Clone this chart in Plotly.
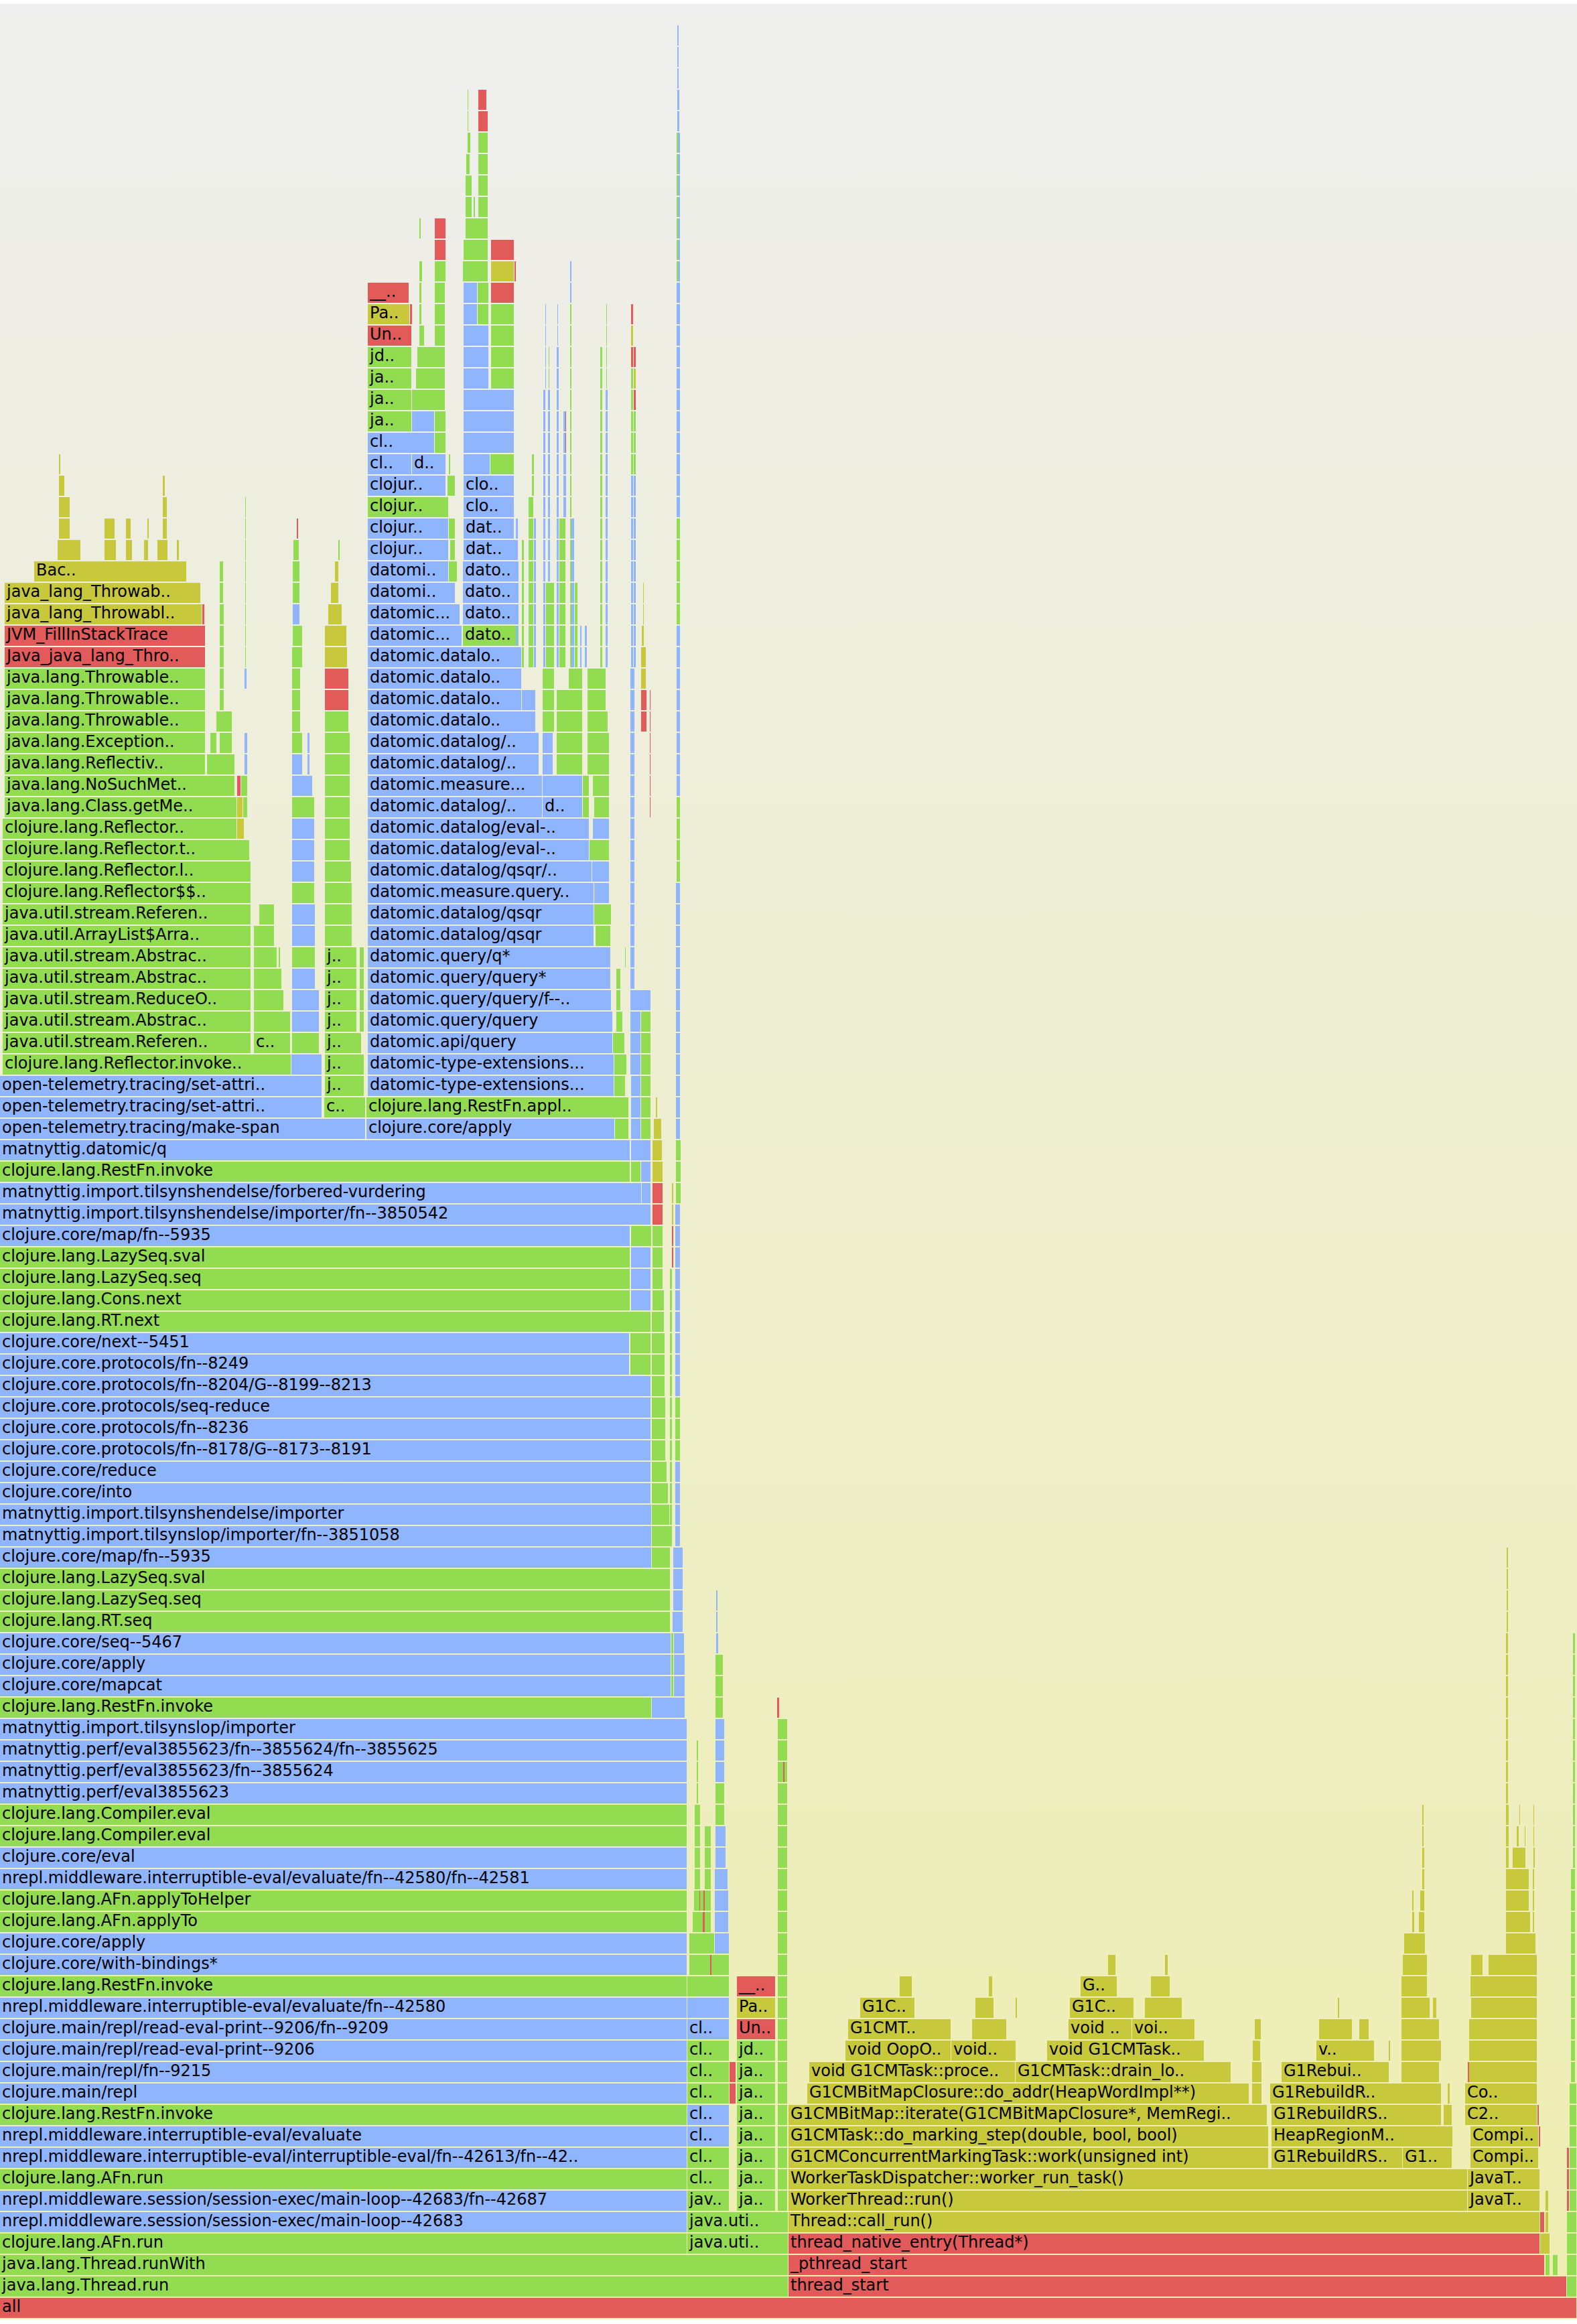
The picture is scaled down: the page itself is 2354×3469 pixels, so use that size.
import base64
import plotly.graph_objects as go

# ---------------------------------------------------------------------------
# Flame graph data: each frame = (depth, start_sample, end_sample, kind, label)
# kinds: java (compiled Java), clj (Clojure), jvm (C++ / VM), native
# ---------------------------------------------------------------------------
TOTAL_SAMPLES = 2354
MAX_DEPTH = 108

ROOT_FRAMES = [
    (0, 0, 2354, 'native', 'all'),
    (1, 0, 1177, 'java', 'java.lang.Thread.run'),
    (1, 1177, 2339, 'native', 'thread_start'),
    (2, 0, 1177, 'java', 'java.lang.Thread.runWith'),
    (2, 1177, 2306, 'native', '_pthread_start'),
    (3, 0, 1026, 'java', 'clojure.lang.AFn.run'),
    (3, 1026, 1177, 'java', 'java.uti..'),
    (3, 1177, 2299, 'native', 'thread_native_entry(Thread*)'),
    (4, 0, 1026, 'clj', 'nrepl.middleware.session/session-exec/main-loop--42683'),
    (4, 1026, 1177, 'java', 'java.uti..'),
    (4, 1177, 2299, 'jvm', 'Thread::call_run()'),
]

MAIN_FRAMES = [
    (5, 0, 1026, 'clj', 'nrepl.middleware.session/session-exec/main-loop--42683/fn--42687'),
    (6, 0, 1026, 'java', 'clojure.lang.AFn.run'),
    (7, 0, 1026, 'clj', 'nrepl.middleware.interruptible-eval/interruptible-eval/fn--42613/fn--42..'),
    (8, 0, 1026, 'clj', 'nrepl.middleware.interruptible-eval/evaluate'),
    (9, 0, 1026, 'java', 'clojure.lang.RestFn.invoke'),
    (10, 0, 1026, 'clj', 'clojure.main/repl'),
    (11, 0, 1026, 'clj', 'clojure.main/repl/fn--9215'),
    (12, 0, 1026, 'clj', 'clojure.main/repl/read-eval-print--9206'),
    (13, 0, 1026, 'clj', 'clojure.main/repl/read-eval-print--9206/fn--9209'),
    (14, 0, 1026, 'clj', 'nrepl.middleware.interruptible-eval/evaluate/fn--42580'),
    (15, 0, 1026, 'java', 'clojure.lang.RestFn.invoke'),
    (16, 0, 1026, 'clj', 'clojure.core/with-bindings*'),
    (17, 0, 1026, 'clj', 'clojure.core/apply'),
    (18, 0, 1026, 'java', 'clojure.lang.AFn.applyTo'),
    (19, 0, 1026, 'java', 'clojure.lang.AFn.applyToHelper'),
    (20, 0, 1026, 'clj', 'nrepl.middleware.interruptible-eval/evaluate/fn--42580/fn--42581'),
    (21, 0, 1026, 'clj', 'clojure.core/eval'),
    (22, 0, 1026, 'java', 'clojure.lang.Compiler.eval'),
    (23, 0, 1026, 'java', 'clojure.lang.Compiler.eval'),
    (24, 0, 1026, 'clj', 'matnyttig.perf/eval3855623'),
    (25, 0, 1026, 'clj', 'matnyttig.perf/eval3855623/fn--3855624'),
    (26, 0, 1026, 'clj', 'matnyttig.perf/eval3855623/fn--3855624/fn--3855625'),
    (27, 0, 1026, 'clj', 'matnyttig.import.tilsynslop/importer'),
    (28, 0, 973, 'java', 'clojure.lang.RestFn.invoke'),
    (28, 973, 1023, 'clj', ''),
    (29, 0, 1002, 'clj', 'clojure.core/mapcat'),
    (29, 1002, 1006, 'java', ''),
    (29, 1006, 1023, 'clj', ''),
    (30, 0, 1002, 'clj', 'clojure.core/apply'),
    (30, 1002, 1006, 'java', ''),
    (30, 1006, 1023, 'clj', ''),
    (31, 0, 1002, 'clj', 'clojure.core/seq--5467'),
    (31, 1002, 1006, 'java', ''),
    (31, 1006, 1022, 'clj', ''),
    (32, 0, 1001, 'java', 'clojure.lang.RT.seq'),
    (32, 1004, 1020, 'clj', ''),
    (33, 0, 1001, 'java', 'clojure.lang.LazySeq.seq'),
    (33, 1005, 1020, 'clj', ''),
    (34, 0, 1001, 'java', 'clojure.lang.LazySeq.sval'),
    (34, 1005, 1020, 'clj', ''),
    (35, 0, 973, 'clj', 'clojure.core/map/fn--5935'),
    (35, 973, 1001, 'java', ''),
    (35, 1005, 1020, 'clj', ''),
    (36, 0, 973, 'clj', 'matnyttig.import.tilsynslop/importer/fn--3851058'),
    (36, 973, 1001, 'java', ''),
    (37, 0, 973, 'clj', 'matnyttig.import.tilsynshendelse/importer'),
    (37, 973, 1000, 'java', ''),
    (38, 0, 972, 'clj', 'clojure.core/into'),
    (38, 973, 998, 'java', ''),
    (39, 0, 972, 'clj', 'clojure.core/reduce'),
    (39, 973, 996, 'java', ''),
    (40, 0, 972, 'clj', 'clojure.core.protocols/fn--8178/G--8173--8191'),
    (40, 973, 994, 'java', ''),
    (41, 0, 972, 'clj', 'clojure.core.protocols/fn--8236'),
    (41, 973, 994, 'java', ''),
    (42, 0, 972, 'clj', 'clojure.core.protocols/seq-reduce'),
    (42, 973, 994, 'java', ''),
    (43, 0, 972, 'clj', 'clojure.core.protocols/fn--8204/G--8199--8213'),
    (43, 973, 993, 'java', ''),
    (44, 0, 940, 'clj', 'clojure.core.protocols/fn--8249'),
    (44, 941, 972, 'java', ''),
    (44, 973, 993, 'java', ''),
    (45, 0, 940, 'clj', 'clojure.core/next--5451'),
    (45, 941, 972, 'java', ''),
    (45, 973, 993, 'java', ''),
    (46, 0, 972, 'java', 'clojure.lang.RT.next'),
    (46, 973, 992, 'java', ''),
    (47, 0, 941, 'java', 'clojure.lang.Cons.next'),
    (47, 942, 972, 'clj', ''),
    (47, 974, 992, 'java', ''),
    (48, 0, 941, 'java', 'clojure.lang.LazySeq.seq'),
    (48, 942, 972, 'clj', ''),
    (48, 974, 990, 'java', ''),
    (49, 0, 941, 'java', 'clojure.lang.LazySeq.sval'),
    (49, 942, 972, 'clj', ''),
    (49, 974, 990, 'java', ''),
    (50, 0, 941, 'clj', 'clojure.core/map/fn--5935'),
    (50, 942, 973, 'java', ''),
    (50, 974, 990, 'java', ''),
    (51, 0, 972, 'clj', 'matnyttig.import.tilsynshendelse/importer/fn--3850542'),
    (51, 974, 990, 'native', ''),
    (52, 0, 958, 'clj', 'matnyttig.import.tilsynshendelse/forbered-vurdering'),
    (52, 958, 972, 'clj', ''),
    (52, 974, 990, 'native', ''),
    (53, 0, 941, 'java', 'clojure.lang.RestFn.invoke'),
    (53, 942, 957, 'java', ''),
    (53, 957, 972, 'clj', ''),
    (53, 974, 990, 'jvm', ''),
    (54, 0, 941, 'clj', 'matnyttig.datomic/q'),
    (54, 942, 972, 'clj', ''),
    (54, 974, 989, 'jvm', ''),
]

REPL_FRAMES = [
    (5, 1026, 1089, 'java', 'jav..'),
    (5, 1100, 1158, 'java', 'ja..'),
    (6, 1026, 1089, 'java', 'cl..'),
    (6, 1100, 1158, 'java', 'ja..'),
    (7, 1026, 1089, 'java', 'cl..'),
    (7, 1100, 1158, 'java', 'ja..'),
    (8, 1026, 1089, 'clj', 'cl..'),
    (8, 1100, 1158, 'java', 'ja..'),
    (9, 1026, 1089, 'clj', 'cl..'),
    (9, 1100, 1158, 'java', 'ja..'),
    (10, 1026, 1089, 'java', 'cl..'),
    (10, 1089, 1099, 'native', ''),
    (10, 1100, 1158, 'java', 'ja..'),
    (11, 1026, 1089, 'java', 'cl..'),
    (11, 1089, 1099, 'native', ''),
    (11, 1100, 1158, 'java', 'ja..'),
    (12, 1026, 1089, 'java', 'cl..'),
    (12, 1100, 1158, 'java', 'jd..'),
    (13, 1026, 1089, 'clj', 'cl..'),
    (13, 1100, 1158, 'native', 'Un..'),
    (14, 1026, 1089, 'clj', ''),
    (14, 1100, 1158, 'jvm', 'Pa..'),
    (15, 1026, 1089, 'java', ''),
    (15, 1100, 1158, 'native', '__..'),
    (16, 1029, 1089, 'java', ''),
    (16, 1060, 1062, 'native', ''),
    (17, 1029, 1067, 'java', ''),
    (17, 1067, 1089, 'clj', ''),
    (18, 1034, 1052, 'java', ''),
    (18, 1049, 1051, 'native', ''),
    (18, 1067, 1088, 'clj', ''),
    (19, 1036, 1053, 'java', ''),
    (19, 1044, 1045, 'native', ''),
    (19, 1067, 1088, 'clj', ''),
]

QUERY_FRAMES = [
    (55, 0, 546, 'clj', 'open-telemetry.tracing/make-span'),
    (55, 547, 918, 'clj', 'clojure.core/apply'),
    (55, 918, 939, 'java', ''),
    (55, 942, 957, 'clj', ''),
    (55, 957, 972, 'java', ''),
    (55, 976, 988, 'jvm', ''),
    (56, 0, 481, 'clj', 'open-telemetry.tracing/set-attri..'),
    (56, 484, 546, 'java', 'c..'),
    (56, 547, 939, 'java', 'clojure.lang.RestFn.appl..'),
    (56, 942, 957, 'clj', ''),
    (56, 957, 972, 'java', ''),
    (56, 979, 981, 'jvm', ''),
    (57, 0, 481, 'clj', 'open-telemetry.tracing/set-attri..'),
    (57, 485, 544, 'java', 'j..'),
    (57, 549, 917, 'clj', 'datomic-type-extensions...'),
    (57, 917, 934, 'java', ''),
    (57, 942, 957, 'clj', ''),
    (57, 957, 972, 'java', ''),
    (58, 4, 435, 'java', 'clojure.lang.Reflector.invoke..'),
    (58, 435, 481, 'clj', ''),
    (58, 485, 544, 'java', 'j..'),
    (58, 549, 917, 'clj', 'datomic-type-extensions...'),
    (58, 917, 936, 'java', ''),
    (58, 941, 957, 'clj', ''),
    (58, 957, 972, 'java', ''),
    (59, 4, 375, 'java', 'java.util.stream.Referen..'),
    (59, 379, 434, 'java', 'c..'),
    (59, 436, 477, 'java', ''),
    (59, 485, 540, 'java', 'j..'),
    (59, 549, 915, 'clj', 'datomic.api/query'),
    (59, 915, 933, 'java', ''),
    (59, 941, 957, 'clj', ''),
    (59, 957, 972, 'java', ''),
    (60, 4, 375, 'java', 'java.util.stream.Abstrac..'),
    (60, 379, 434, 'java', ''),
    (60, 436, 477, 'clj', ''),
    (60, 485, 533, 'java', 'j..'),
    (60, 537, 544, 'java', ''),
    (60, 549, 915, 'clj', 'datomic.query/query'),
    (60, 920, 930, 'java', ''),
    (60, 941, 957, 'clj', ''),
    (60, 957, 972, 'java', ''),
    (61, 4, 375, 'java', 'java.util.stream.ReduceO..'),
    (61, 379, 424, 'java', ''),
    (61, 436, 477, 'clj', ''),
    (61, 485, 533, 'java', 'j..'),
    (61, 537, 544, 'java', ''),
    (61, 549, 913, 'clj', 'datomic.query/query/f--..'),
    (61, 920, 927, 'java', ''),
    (61, 941, 972, 'clj', ''),
    (62, 4, 375, 'java', 'java.util.stream.Abstrac..'),
    (62, 379, 421, 'java', ''),
    (62, 436, 471, 'clj', ''),
    (62, 485, 533, 'java', 'j..'),
    (62, 537, 544, 'java', ''),
    (62, 549, 912, 'clj', 'datomic.query/query*'),
    (62, 920, 927, 'java', ''),
    (62, 941, 948, 'clj', ''),
    (63, 4, 375, 'java', 'java.util.stream.Abstrac..'),
    (63, 379, 414, 'java', ''),
    (63, 416, 418, 'java', ''),
    (63, 436, 471, 'java', ''),
    (63, 485, 533, 'java', 'j..'),
    (63, 537, 544, 'java', ''),
    (63, 549, 912, 'clj', 'datomic.query/q*'),
    (63, 933, 934, 'java', ''),
    (63, 941, 948, 'clj', ''),
    (64, 4, 375, 'java', 'java.util.ArrayList$Arra..'),
    (64, 379, 410, 'java', ''),
    (64, 436, 471, 'clj', ''),
    (64, 485, 526, 'java', ''),
    (64, 549, 887, 'clj', 'datomic.datalog/qsqr'),
    (64, 889, 912, 'java', ''),
    (64, 941, 948, 'clj', ''),
    (65, 4, 375, 'java', 'java.util.stream.Referen..'),
    (65, 387, 410, 'java', ''),
    (65, 436, 471, 'clj', ''),
    (65, 485, 526, 'java', ''),
    (65, 549, 887, 'clj', 'datomic.datalog/qsqr'),
    (65, 887, 913, 'java', ''),
    (65, 941, 948, 'clj', ''),
    (66, 4, 375, 'java', 'clojure.lang.Reflector$$..'),
    (66, 436, 470, 'java', ''),
    (66, 485, 526, 'java', ''),
    (66, 549, 887, 'clj', 'datomic.measure.query..'),
    (66, 887, 910, 'clj', ''),
    (66, 941, 948, 'clj', ''),
    (67, 4, 375, 'java', 'clojure.lang.Reflector.l..'),
    (67, 436, 470, 'clj', ''),
    (67, 485, 525, 'java', ''),
    (67, 549, 884, 'clj', 'datomic.datalog/qsqr/..'),
    (67, 884, 910, 'clj', ''),
    (67, 941, 948, 'clj', ''),
    (68, 4, 373, 'java', 'clojure.lang.Reflector.t..'),
    (68, 436, 470, 'clj', ''),
    (68, 485, 523, 'java', ''),
    (68, 549, 880, 'clj', 'datomic.datalog/eval-..'),
    (68, 880, 910, 'java', ''),
    (68, 941, 948, 'clj', ''),
    (69, 4, 354, 'java', 'clojure.lang.Reflector..'),
    (69, 354, 365, 'jvm', ''),
    (69, 436, 470, 'clj', ''),
    (69, 485, 523, 'java', ''),
    (69, 549, 880, 'clj', 'datomic.datalog/eval-..'),
    (69, 885, 910, 'clj', ''),
    (69, 941, 948, 'clj', ''),
    (70, 7, 354, 'java', 'java.lang.Class.getMe..'),
    (70, 354, 363, 'jvm', ''),
    (70, 363, 370, 'java', ''),
    (70, 436, 470, 'java', ''),
    (70, 485, 523, 'java', ''),
    (70, 549, 810, 'clj', 'datomic.datalog/..'),
    (70, 810, 870, 'clj', 'd..'),
    (70, 870, 880, 'java', ''),
    (70, 887, 910, 'java', ''),
    (70, 941, 948, 'clj', ''),
    (71, 7, 351, 'java', 'java.lang.NoSuchMet..'),
    (71, 354, 360, 'native', ''),
    (71, 360, 370, 'java', ''),
    (71, 436, 467, 'clj', ''),
    (71, 485, 523, 'java', ''),
    (71, 549, 810, 'clj', 'datomic.measure...'),
    (71, 810, 870, 'clj', ''),
    (71, 870, 880, 'java', ''),
    (71, 885, 910, 'java', ''),
    (71, 941, 948, 'clj', ''),
    (72, 7, 307, 'java', 'java.lang.Reflectiv..'),
    (72, 309, 351, 'java', ''),
    (72, 365, 370, 'clj', ''),
    (72, 436, 452, 'clj', ''),
    (72, 459, 463, 'clj', ''),
    (72, 485, 523, 'java', ''),
    (72, 549, 805, 'clj', 'datomic.datalog/..'),
    (72, 810, 826, 'clj', ''),
    (72, 831, 870, 'java', ''),
    (72, 877, 910, 'java', ''),
    (72, 941, 948, 'clj', ''),
    (73, 7, 307, 'java', 'java.lang.Exception..'),
    (73, 314, 324, 'java', ''),
    (73, 328, 347, 'java', ''),
    (73, 365, 370, 'clj', ''),
    (73, 436, 452, 'java', ''),
    (73, 459, 463, 'clj', ''),
    (73, 485, 523, 'java', ''),
    (73, 549, 805, 'clj', 'datomic.datalog/..'),
    (73, 810, 826, 'clj', ''),
    (73, 831, 870, 'java', ''),
    (73, 877, 910, 'java', ''),
    (73, 941, 948, 'clj', ''),
    (74, 7, 307, 'java', 'java.lang.Throwable..'),
    (74, 323, 347, 'java', ''),
    (74, 436, 449, 'java', ''),
    (74, 485, 521, 'java', ''),
    (74, 549, 800, 'clj', 'datomic.datalo..'),
    (74, 810, 828, 'java', ''),
    (74, 831, 870, 'java', ''),
    (74, 877, 908, 'java', ''),
    (74, 941, 948, 'clj', ''),
    (74, 957, 966, 'native', ''),
    (75, 7, 307, 'java', 'java.lang.Throwable..'),
    (75, 328, 335, 'java', ''),
    (75, 436, 449, 'java', ''),
    (75, 485, 521, 'native', ''),
    (75, 549, 779, 'clj', 'datomic.datalo..'),
    (75, 779, 800, 'clj', ''),
    (75, 810, 828, 'java', ''),
    (75, 831, 870, 'java', ''),
    (75, 877, 905, 'java', ''),
    (75, 941, 948, 'clj', ''),
    (75, 957, 966, 'native', ''),
    (76, 7, 307, 'java', 'java.lang.Throwable..'),
    (76, 328, 335, 'java', ''),
    (76, 365, 368, 'clj', ''),
    (76, 436, 449, 'java', ''),
    (76, 485, 521, 'native', ''),
    (76, 549, 779, 'clj', 'datomic.datalo..'),
    (76, 810, 828, 'java', ''),
    (76, 849, 870, 'java', ''),
    (76, 877, 905, 'java', ''),
    (76, 941, 948, 'clj', ''),
    (76, 957, 965, 'jvm', ''),
    (77, 7, 307, 'native', 'Java_java_lang_Thro..'),
    (77, 328, 335, 'java', ''),
    (77, 436, 452, 'java', ''),
    (77, 485, 519, 'jvm', ''),
    (77, 549, 779, 'clj', 'datomic.datalo..'),
    (77, 957, 965, 'jvm', ''),
    (78, 7, 307, 'native', 'JVM_FillInStackTrace'),
    (78, 328, 335, 'java', ''),
    (78, 437, 452, 'java', ''),
    (78, 485, 518, 'jvm', ''),
    (78, 549, 690, 'clj', 'datomic...'),
    (78, 691, 775, 'java', 'dato..'),
    (78, 958, 962, 'jvm', ''),
    (79, 7, 302, 'jvm', 'java_lang_Throwabl..'),
    (79, 302, 306, 'native', ''),
    (79, 328, 335, 'java', ''),
    (79, 437, 448, 'clj', ''),
    (79, 490, 511, 'jvm', ''),
    (79, 549, 687, 'clj', 'datomic...'),
    (79, 691, 775, 'clj', 'dato..'),
    (80, 7, 300, 'jvm', 'java_lang_Throwab..'),
    (80, 328, 334, 'java', ''),
    (80, 437, 448, 'java', ''),
    (80, 494, 506, 'jvm', ''),
    (80, 549, 680, 'clj', 'datomi..'),
    (80, 691, 775, 'clj', 'dato..'),
    (81, 51, 279, 'jvm', 'Bac..'),
    (81, 328, 334, 'java', ''),
    (81, 437, 448, 'java', ''),
    (81, 500, 506, 'jvm', ''),
    (81, 549, 670, 'clj', 'datomi..'),
    (81, 670, 683, 'java', ''),
    (81, 691, 775, 'clj', 'dato..'),
    (82, 86, 121, 'jvm', ''),
    (82, 156, 174, 'jvm', ''),
    (82, 188, 198, 'jvm', ''),
    (82, 215, 222, 'jvm', ''),
    (82, 235, 251, 'jvm', ''),
    (82, 264, 267, 'jvm', ''),
    (82, 438, 447, 'java', ''),
    (82, 505, 507, 'java', ''),
    (82, 549, 670, 'clj', 'clojur..'),
    (82, 672, 680, 'java', ''),
    (82, 692, 772, 'clj', 'dat..'),
    (83, 88, 105, 'jvm', ''),
    (83, 156, 172, 'jvm', ''),
    (83, 188, 196, 'jvm', ''),
    (83, 220, 222, 'jvm', ''),
    (83, 243, 250, 'jvm', ''),
    (83, 443, 445, 'native', ''),
    (83, 549, 670, 'clj', 'clojur..'),
    (83, 670, 680, 'java', ''),
    (83, 692, 768, 'clj', 'dat..'),
    (84, 88, 105, 'jvm', ''),
    (84, 243, 250, 'jvm', ''),
    (84, 549, 670, 'java', 'clojur..'),
    (84, 692, 768, 'clj', 'clo..'),
    (85, 88, 97, 'jvm', ''),
    (85, 243, 247, 'jvm', ''),
    (85, 549, 666, 'clj', 'clojur..'),
    (85, 668, 680, 'java', ''),
    (85, 692, 768, 'clj', 'clo..'),
    (86, 88, 90, 'jvm', ''),
    (86, 549, 615, 'clj', 'cl..'),
    (86, 615, 666, 'clj', 'd..'),
    (86, 670, 672, 'java', ''),
    (86, 692, 732, 'clj', ''),
    (86, 732, 768, 'java', ''),
    (87, 549, 649, 'clj', 'cl..'),
    (87, 649, 666, 'java', ''),
    (87, 692, 768, 'clj', ''),
    (88, 549, 615, 'java', 'ja..'),
    (88, 615, 649, 'clj', ''),
    (88, 649, 666, 'java', ''),
    (88, 692, 768, 'clj', ''),
    (89, 549, 615, 'java', 'ja..'),
    (89, 615, 665, 'java', ''),
    (89, 692, 768, 'clj', ''),
    (90, 549, 615, 'java', 'ja..'),
    (90, 621, 665, 'java', ''),
    (90, 692, 730, 'clj', ''),
    (90, 733, 768, 'java', ''),
    (91, 549, 615, 'java', 'jd..'),
    (91, 623, 665, 'java', ''),
    (91, 692, 730, 'clj', ''),
    (91, 733, 768, 'java', ''),
    (92, 549, 615, 'native', 'Un..'),
    (92, 626, 634, 'java', ''),
    (92, 649, 665, 'java', ''),
    (92, 692, 730, 'clj', ''),
    (92, 733, 768, 'java', ''),
    (93, 549, 612, 'jvm', 'Pa..'),
    (93, 612, 615, 'native', ''),
    (93, 626, 629, 'java', ''),
    (93, 649, 665, 'java', ''),
    (93, 692, 713, 'clj', ''),
    (93, 713, 730, 'java', ''),
    (93, 733, 768, 'java', ''),
    (94, 549, 611, 'native', '__..'),
    (94, 626, 629, 'java', ''),
    (94, 649, 665, 'java', ''),
    (94, 692, 713, 'clj', ''),
    (94, 713, 730, 'java', ''),
    (94, 733, 768, 'native', ''),
    (95, 626, 631, 'java', ''),
    (95, 649, 666, 'java', ''),
    (95, 691, 729, 'java', ''),
    (95, 733, 768, 'jvm', ''),
    (95, 768, 770, 'native', ''),
    (96, 649, 666, 'native', ''),
    (96, 692, 729, 'java', ''),
    (96, 733, 768, 'native', ''),
    (97, 626, 628, 'java', ''),
    (97, 649, 666, 'native', ''),
    (97, 695, 729, 'java', ''),
    (98, 695, 705, 'java', ''),
    (98, 707, 709, 'java', ''),
    (98, 714, 729, 'java', ''),
    (99, 695, 705, 'java', ''),
    (99, 714, 729, 'java', ''),
    (100, 696, 702, 'java', ''),
    (100, 714, 729, 'java', ''),
    (101, 698, 703, 'java', ''),
    (101, 714, 729, 'java', ''),
    (102, 698, 699, 'java', ''),
    (102, 714, 729, 'native', ''),
    (103, 698, 699, 'java', ''),
    (103, 714, 727, 'native', ''),
]

GC_FRAMES = [
    (5, 1177, 2191, 'jvm', 'WorkerThread::run()'),
    (5, 2191, 2299, 'jvm', 'JavaT..'),
    (6, 1177, 2191, 'jvm', 'WorkerTaskDispatcher::worker_run_task()'),
    (6, 2191, 2299, 'jvm', 'JavaT..'),
    (7, 1177, 1894, 'jvm', 'G1CMConcurrentMarkingTask::work(unsigned int)'),
    (7, 1898, 2094, 'jvm', 'G1RebuildRS..'),
    (7, 2094, 2168, 'jvm', 'G1..'),
    (7, 2195, 2297, 'jvm', 'Compi..'),
    (8, 1177, 1894, 'jvm', 'G1CMTask::do_marking_step(double, bool, bool)'),
    (8, 1898, 2169, 'jvm', 'HeapRegionM..'),
    (8, 2195, 2297, 'jvm', 'Compi..'),
    (8, 2297, 2299, 'native', ''),
    (9, 1177, 1892, 'jvm', 'G1CMBitMap::iterate(G1CMBitMapClosure*, MemRegi..'),
    (9, 1898, 2152, 'jvm', 'G1RebuildRS..'),
    (9, 2155, 2168, 'jvm', ''),
    (9, 2187, 2295, 'jvm', 'C2..'),
    (9, 2295, 2297, 'native', ''),
    (10, 1205, 1865, 'jvm', 'G1CMBitMapClosure::do_addr(HeapWordImpl**)'),
    (10, 1869, 1884, 'jvm', ''),
    (10, 1896, 2152, 'jvm', 'G1RebuildR..'),
    (10, 2161, 2165, 'jvm', ''),
    (10, 2187, 2295, 'jvm', 'Co..'),
    (11, 1208, 1516, 'jvm', 'void G1CMTask::proce..'),
    (11, 1516, 1838, 'jvm', 'G1CMTask::drain_lo..'),
    (11, 1869, 1884, 'jvm', ''),
    (11, 1913, 2074, 'jvm', 'G1Rebui..'),
    (11, 2092, 2149, 'jvm', ''),
    (11, 2191, 2193, 'native', ''),
    (11, 2193, 2295, 'jvm', ''),
    (12, 1262, 1420, 'jvm', 'void OopO..'),
    (12, 1420, 1517, 'jvm', 'void..'),
    (12, 1563, 1798, 'jvm', 'void G1CMTask..'),
    (12, 1870, 1882, 'jvm', ''),
    (12, 1965, 2052, 'jvm', 'v..'),
    (12, 2073, 2075, 'jvm', ''),
    (12, 2092, 2152, 'jvm', ''),
    (12, 2193, 2295, 'jvm', ''),
    (13, 1266, 1420, 'jvm', 'G1CMT..'),
    (13, 1451, 1503, 'jvm', ''),
    (13, 1595, 1690, 'jvm', 'void ..'),
    (13, 1690, 1784, 'jvm', 'voi..'),
    (13, 1873, 1883, 'jvm', ''),
    (13, 1969, 2019, 'jvm', ''),
    (13, 2029, 2044, 'jvm', ''),
    (13, 2092, 2149, 'jvm', ''),
    (13, 2193, 2295, 'jvm', ''),
    (14, 1284, 1366, 'jvm', 'G1C..'),
    (14, 1456, 1484, 'jvm', ''),
    (14, 1516, 1518, 'jvm', ''),
    (14, 1597, 1693, 'jvm', 'G1C..'),
    (14, 1709, 1765, 'jvm', ''),
    (14, 1997, 1999, 'jvm', ''),
    (14, 2092, 2135, 'jvm', ''),
    (14, 2139, 2145, 'jvm', ''),
    (14, 2196, 2295, 'jvm', ''),
    (15, 1343, 1362, 'jvm', ''),
    (15, 1476, 1482, 'jvm', ''),
    (15, 1613, 1668, 'jvm', 'G..'),
    (15, 1718, 1747, 'jvm', ''),
    (15, 2092, 2131, 'jvm', ''),
    (15, 2195, 2295, 'jvm', ''),
    (16, 1654, 1666, 'jvm', ''),
    (16, 1739, 1744, 'jvm', ''),
    (16, 2094, 2131, 'jvm', ''),
    (16, 2196, 2214, 'jvm', ''),
    (16, 2222, 2295, 'jvm', ''),
    (17, 2096, 2128, 'jvm', ''),
    (17, 2248, 2293, 'jvm', ''),
    (18, 2108, 2112, 'jvm', ''),
    (18, 2118, 2127, 'jvm', ''),
    (18, 2248, 2285, 'jvm', ''),
    (18, 2288, 2290, 'jvm', ''),
    (19, 2108, 2110, 'jvm', ''),
    (19, 2120, 2127, 'jvm', ''),
    (19, 2248, 2283, 'jvm', ''),
    (19, 2288, 2290, 'jvm', ''),
    (20, 2123, 2126, 'jvm', ''),
    (20, 2248, 2283, 'jvm', ''),
    (20, 2288, 2290, 'jvm', ''),
    (21, 2123, 2126, 'jvm', ''),
    (21, 2248, 2253, 'jvm', ''),
    (21, 2258, 2278, 'jvm', ''),
    (21, 2289, 2291, 'jvm', ''),
    (22, 2123, 2125, 'jvm', ''),
    (22, 2248, 2253, 'jvm', ''),
    (22, 2264, 2268, 'jvm', ''),
    (22, 2276, 2277, 'jvm', ''),
    (22, 2289, 2290, 'jvm', ''),
    (23, 2123, 2125, 'jvm', ''),
    (23, 2248, 2253, 'jvm', ''),
    (23, 2268, 2269, 'jvm', ''),
    (23, 2289, 2290, 'jvm', ''),
]

# Narrow unlabelled towers: (start, end, depth_from, depth_to, kind)
NARROW_TOWERS = [
    (1161, 1176, 5, 27, 'java'),
    (1160, 1164, 28, 28, 'native'),
    (1169, 1171, 25, 25, 'native'),
    (1052, 1062, 17, 22, 'java'),
    (1050, 1052, 18, 19, 'native'),
    (1037, 1046, 20, 23, 'java'),
    (1040, 1042, 24, 26, 'java'),
    (1067, 1087, 20, 20, 'clj'),
    (1068, 1084, 21, 22, 'clj'),
    (1068, 1082, 23, 24, 'java'),
    (1068, 1082, 25, 27, 'clj'),
    (1068, 1080, 28, 30, 'java'),
    (1069, 1073, 31, 31, 'clj'),
    (1069, 1071, 32, 33, 'clj'),
    (1000, 1004, 36, 48, 'java'),
    (1003, 1005, 49, 50, 'native'),
    (1003, 1005, 51, 52, 'jvm'),
    (1008, 1016, 36, 39, 'clj'),
    (1008, 1016, 40, 42, 'java'),
    (1008, 1016, 43, 51, 'clj'),
    (1009, 1017, 52, 54, 'java'),
    (1009, 1016, 55, 66, 'clj'),
    (1010, 1016, 67, 70, 'java'),
    (1010, 1016, 71, 78, 'clj'),
    (1010, 1016, 79, 83, 'java'),
    (1010, 1016, 84, 94, 'clj'),
    (1010, 1012, 95, 101, 'java'),
    (1012, 1015, 95, 101, 'clj'),
    (1011, 1015, 102, 103, 'clj'),
    (1011, 1013, 104, 106, 'clj'),
    (770, 773, 77, 83, 'clj'),
    (779, 782, 77, 82, 'java'),
    (789, 797, 77, 84, 'java'),
    (794, 797, 85, 86, 'java'),
    (797, 800, 77, 83, 'clj'),
    (811, 815, 77, 89, 'clj'),
    (814, 815, 90, 93, 'clj'),
    (815, 828, 77, 80, 'java'),
    (818, 822, 81, 89, 'clj'),
    (819, 820, 90, 91, 'java'),
    (831, 835, 77, 91, 'clj'),
    (832, 833, 92, 93, 'clj'),
    (835, 845, 77, 83, 'java'),
    (841, 846, 84, 88, 'clj'),
    (844, 845, 87, 88, 'native'),
    (851, 853, 77, 93, 'java'),
    (851, 853, 94, 95, 'clj'),
    (853, 858, 77, 83, 'clj'),
    (858, 863, 77, 80, 'java'),
    (866, 868, 77, 78, 'clj'),
    (873, 876, 77, 78, 'clj'),
    (896, 900, 77, 91, 'java'),
    (904, 907, 77, 89, 'clj'),
    (905, 906, 90, 93, 'java'),
    (942, 945, 77, 85, 'clj'),
    (942, 945, 86, 90, 'java'),
    (942, 945, 91, 91, 'native'),
    (942, 945, 92, 92, 'jvm'),
    (942, 945, 93, 93, 'native'),
    (946, 950, 77, 85, 'clj'),
    (946, 950, 86, 88, 'java'),
    (946, 950, 89, 89, 'native'),
    (946, 950, 90, 90, 'jvm'),
    (946, 950, 91, 91, 'native'),
    (960, 961, 79, 80, 'jvm'),
    (970, 971, 70, 75, 'native'),
    (366, 367, 77, 84, 'java'),
    (626, 628, 82, 83, 'java'),
    (2299, 2314, 3, 3, 'jvm'),
    (2299, 2306, 4, 4, 'native'),
    (2307, 2312, 4, 5, 'jvm'),
    (2307, 2314, 2, 2, 'java'),
    (2318, 2326, 2, 2, 'java'),
    (2339, 2354, 1, 4, 'java'),
    (2339, 2343, 5, 7, 'native'),
    (2343, 2354, 5, 10, 'java'),
    (2345, 2352, 11, 20, 'java'),
    (2348, 2351, 21, 31, 'java'),
    (2248, 2252, 24, 31, 'jvm'),
    (2249, 2251, 32, 35, 'jvm'),
]

KIND_COLORS = {
    'java': '#92dc52',
    'clj': '#8fb5ff',
    'jvm': '#c8c83c',
    'native': '#e25a5a',
}

# ---------------------------------------------------------------------------
frames = []
for group in (ROOT_FRAMES, MAIN_FRAMES, REPL_FRAMES, QUERY_FRAMES, GC_FRAMES):
    frames.extend(group)
for x0, x1, d0, d1, kind in NARROW_TOWERS:
    for d in range(d0, d1 + 1):
        frames.append((d, x0, x1, kind, ''))

ROW_OFFSET = 0.53125
ROW_THICK = 0.9375

fig = go.Figure()
for kind, color in KIND_COLORS.items():
    sel = [f for f in frames if f[3] == kind]
    widths = []
    for f in sel:
        w = f[2] - f[1]
        widths.append(w - 1 if w > 3 else w)
    fig.add_trace(go.Bar(
        orientation='h',
        y=[f[0] + ROW_OFFSET for f in sel],
        x=widths,
        base=[f[1] for f in sel],
        width=ROW_THICK,
        marker=dict(color=color, line=dict(width=0)),
        hovertext=[f[4] for f in sel],
        hoverinfo='text',
        showlegend=False,
    ))

labelled = [f for f in frames if f[4]]
fig.add_trace(go.Scatter(
    mode='text',
    x=[f[1] + 3 for f in labelled],
    y=[f[0] + ROW_OFFSET for f in labelled],
    text=[f[4] for f in labelled],
    textposition='middle right',
    textfont=dict(family='DejaVu Sans', size=24, color='#000000'),
    hoverinfo='skip',
    showlegend=False,
))

svg = ('<svg xmlns="http://www.w3.org/2000/svg" width="10" height="100" '
       'preserveAspectRatio="none"><defs><linearGradient id="g" x1="0" y1="0" '
       'x2="0" y2="1"><stop offset="0" stop-color="#eeeeee"/>'
       '<stop offset="1" stop-color="#eeeeb0"/></linearGradient></defs>'
       '<rect width="10" height="100" fill="url(#g)"/></svg>')
bg_src = 'data:image/svg+xml;base64,' + base64.b64encode(svg.encode()).decode()

fig.update_layout(
    width=2354, height=3469,
    margin=dict(l=0, r=0, t=6, b=7, pad=0),
    paper_bgcolor='#ffffff',
    plot_bgcolor='rgba(0,0,0,0)',
    barmode='overlay',
    showlegend=False,
    images=[dict(source=bg_src, xref='paper', yref='paper', x=0, y=1,
                 sizex=1, sizey=1, sizing='stretch', xanchor='left',
                 yanchor='top', layer='below')],
    xaxis=dict(range=[0, TOTAL_SAMPLES], visible=False, fixedrange=True),
    yaxis=dict(range=[0, MAX_DEPTH], visible=False, fixedrange=True),
)

fig.write_html("out.html", config={'displayModeBar': False},
               post_script="document.body.style.margin='0';")
